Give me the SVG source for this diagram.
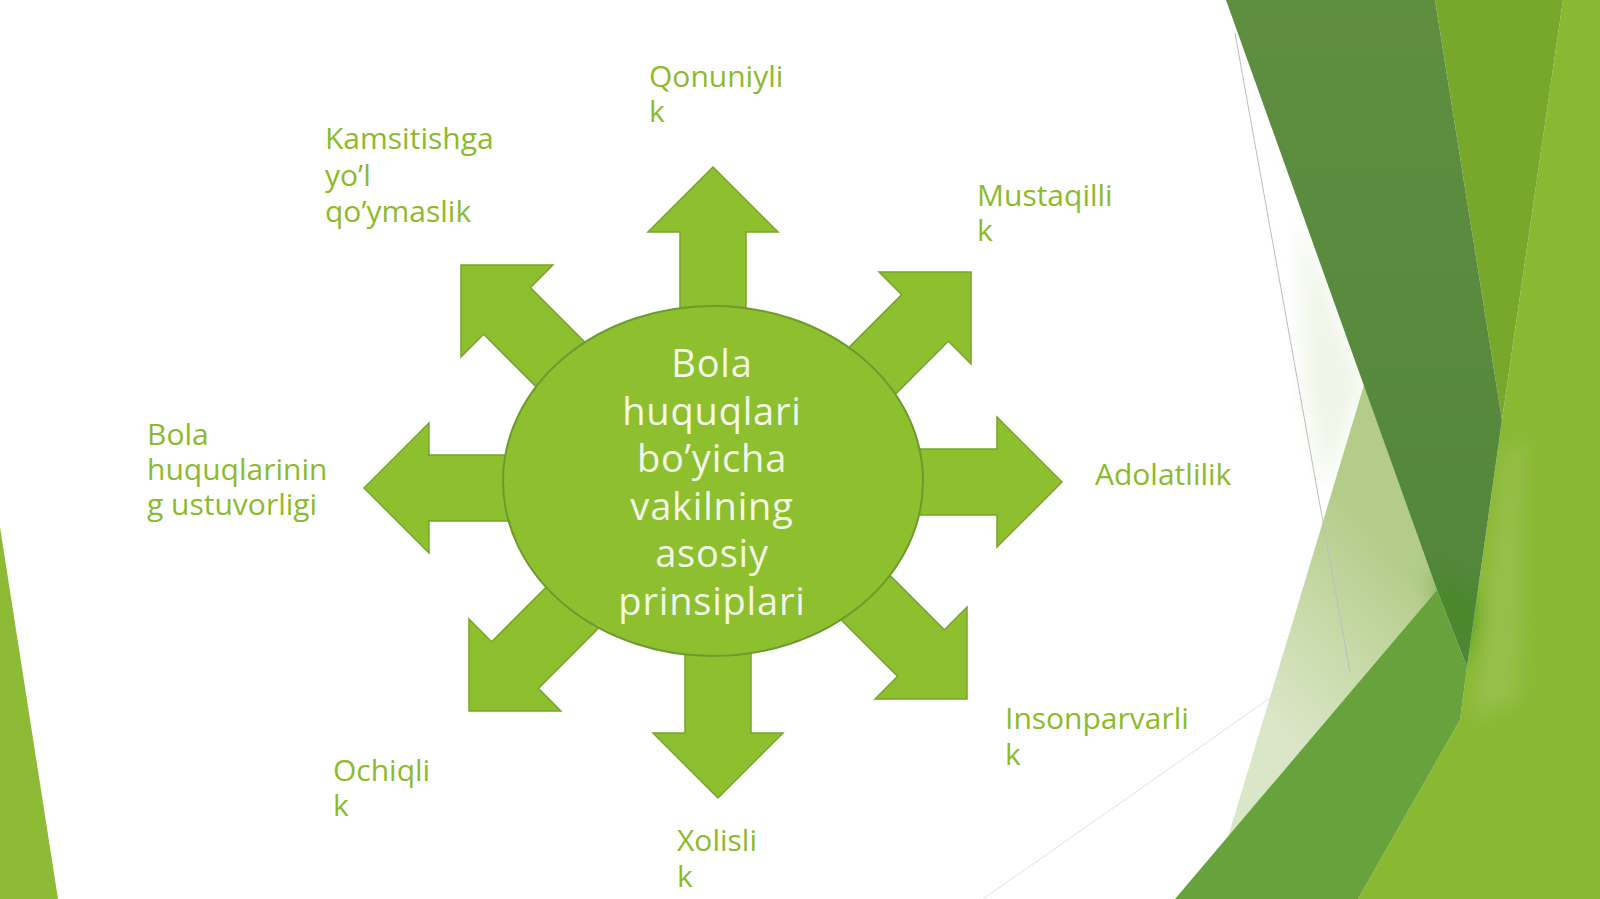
<svg xmlns="http://www.w3.org/2000/svg" width="1600" height="899" viewBox="0 0 1600 899">
<defs>
<style>
.lbl{font-family:"Open Sans","Noto Sans","DejaVu Sans",sans-serif;font-size:30px;fill:#8DBA2C}
.ctr{font-family:"Open Sans","Noto Sans","DejaVu Sans",sans-serif;font-size:38px;letter-spacing:0.8px;fill:#F3F9E6;text-anchor:middle}
.arr{fill:#8DBF2F;stroke:#77A52A;stroke-width:1.5;stroke-linejoin:miter}
</style>
<polygon id="arrowShape" points="0,0 65,65 33,65 33,220 -33,220 -33,65 -65,65"/>
<linearGradient id="darkG" x1="0" y1="0" x2="0" y2="1">
<stop offset="0" stop-color="#5F8E40"/>
<stop offset="1" stop-color="#52853A"/>
</linearGradient>
<linearGradient id="paleG" gradientUnits="userSpaceOnUse" x1="1270" y1="720" x2="1420" y2="580">
<stop offset="0" stop-color="#DAE6C8"/>
<stop offset="0.5" stop-color="#C8DAA9"/>
<stop offset="1" stop-color="#B3CC8A"/>
</linearGradient>
<filter id="soft" x="-100%" y="-50%" width="300%" height="200%">
<feGaussianBlur stdDeviation="10"/>
</filter>
</defs>
<rect width="1600" height="899" fill="#FFFFFF"/>
<g id="background">
<polygon points="0,527 58,899 0,899" fill="#8DBB35"/>
<polygon points="1300,215 1364,385 1325,490 1305,390" fill="#F0F5E8" filter="url(#soft)"/>
<polygon points="1364,385 1437,590 1228,837" fill="url(#paleG)"/>
<polygon points="1563,0 1600,0 1600,899 1358,899 1460,720 1467,667 1502,420" fill="#89B833"/>
<polygon points="1503,450 1525,440 1520,700 1472,720 1478,640" fill="#A0C65E" opacity="0.55" filter="url(#soft)"/>
<polygon points="1435,0 1563,0 1502,420" fill="#78A82B"/>
<polygon points="1226,0 1435,0 1502,420 1467,667 1437,590" fill="url(#darkG)"/>
<polygon points="1437,590 1467,667 1477,600 1430,570" fill="#3F8A1E" opacity="0.6" filter="url(#soft)"/>
<polygon points="1437,590 1467,667 1460,720 1358,899 1175,899" fill="#68A23C"/>
<line x1="1235" y1="33" x2="1350" y2="672" stroke="#BDBDBD" stroke-width="1"/>
<line x1="983" y1="899" x2="1273" y2="696" stroke="#E2E2E2" stroke-width="1"/>
</g>
<g id="connectors">
<use href="#arrowShape" class="arr" transform="translate(713,167)"/>
<use href="#arrowShape" class="arr" transform="translate(971,272) rotate(45)"/>
<use href="#arrowShape" class="arr" transform="translate(1062,482) rotate(90)"/>
<use href="#arrowShape" class="arr" transform="translate(967,699) rotate(135)"/>
<use href="#arrowShape" class="arr" transform="translate(718,798) rotate(180)"/>
<use href="#arrowShape" class="arr" transform="translate(469,711) rotate(225)"/>
<use href="#arrowShape" class="arr" transform="translate(364,488) rotate(270)"/>
<use href="#arrowShape" class="arr" transform="translate(461,265) rotate(315)"/>
</g>
<g id="center">
<ellipse cx="713" cy="481" rx="210" ry="175" fill="#8DBF2F" stroke="#6E9A2C" stroke-width="2"/>
<text class="ctr" x="712" y="377">Bola<tspan x="712" dy="47.6">huquqlari</tspan><tspan x="712" dy="47.6">bo’yicha</tspan><tspan x="712" dy="47.6">vakilning</tspan><tspan x="712" dy="47.6">asosiy</tspan><tspan x="712" dy="47.6">prinsiplari</tspan></text>
</g>
<g id="label-qonuniylik"><text class="lbl" x="649" y="87">Qonuniyli<tspan x="649" dy="35">k</tspan></text></g>
<g id="label-mustaqillik"><text class="lbl" x="977" y="206">Mustaqilli<tspan x="977" dy="35">k</tspan></text></g>
<g id="label-adolatlilik"><text class="lbl" x="1095" y="485">Adolatlilik</text></g>
<g id="label-insonparvarlik"><text class="lbl" x="1005" y="729">Insonparvarli<tspan x="1005" dy="36">k</tspan></text></g>
<g id="label-xolislik"><text class="lbl" x="677" y="851">Xolisli<tspan x="677" dy="36">k</tspan></text></g>
<g id="label-ochiqlik"><text class="lbl" x="333" y="781">Ochiqli<tspan x="333" dy="35">k</tspan></text></g>
<g id="label-ustuvorlik"><text class="lbl" x="147" y="445">Bola<tspan x="147" dy="35">huquqlarinin</tspan><tspan x="147" dy="35">g ustuvorligi</tspan></text></g>
<g id="label-kamsitish"><text class="lbl" x="325" y="149">Kamsitishga<tspan x="325" dy="36.5">yo’l</tspan><tspan x="325" dy="36.5">qo’ymaslik</tspan></text></g>
</svg>
